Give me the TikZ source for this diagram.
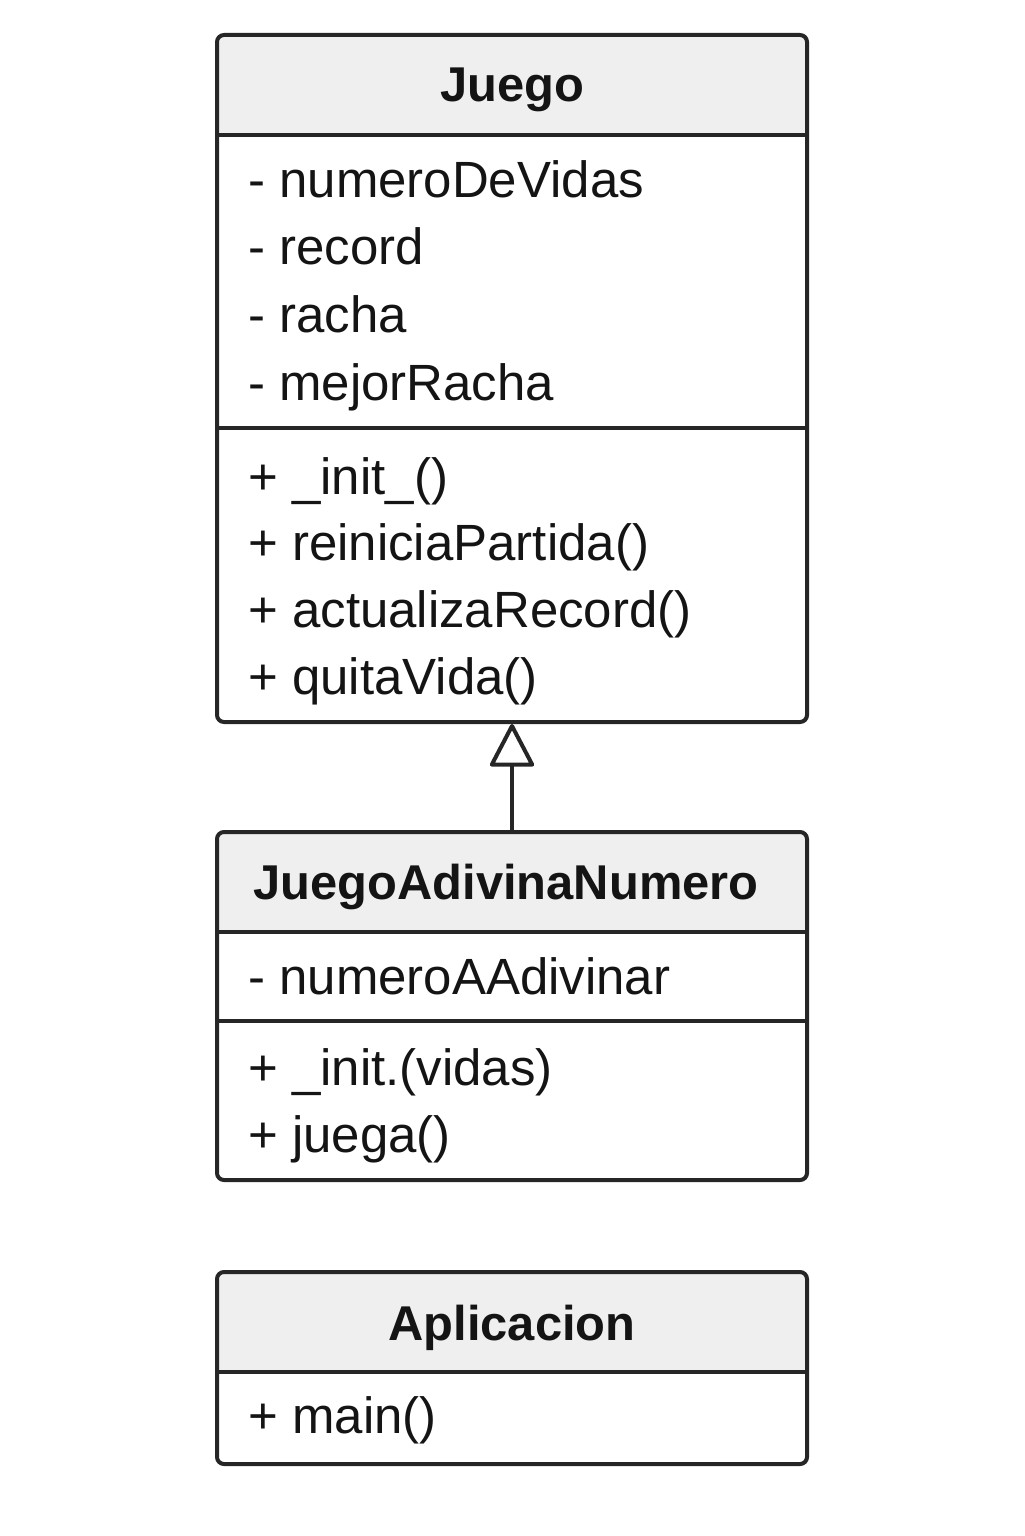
\documentclass[tikz,border=0pt]{standalone}
\usepackage{fontspec}
\setmainfont{Liberation Sans}
\usetikzlibrary{arrows.meta}
\definecolor{umlline}{HTML}{262626}
\definecolor{umlhead}{HTML}{EFEFEF}
\definecolor{umltext}{HTML}{141414}

\tikzset{
  classbox/.style={draw=umlline,line width=0.08cm,rounded corners=0.14cm,minimum width=11.8cm,inner sep=0pt},
  headbox/.style={fill=umlhead,rounded corners=0.14cm,minimum width=11.8cm,minimum height=2cm,inner sep=0pt},
  classname/.style={anchor=base,inner sep=0pt,text=umltext,font=\fontsize{27.8}{32}\selectfont\bfseries},
  member/.style={anchor=base west,inner sep=0pt,text=umltext,font=\fontsize{29}{34}\selectfont},
  divider/.style={draw=umlline,line width=0.08cm},
}

\begin{document}
\begin{tikzpicture}
\useasboundingbox (0,0) rectangle (20.48,-30.72);

% class Juego
\node[headbox] (juegoHead) at (10.24,-1.70) {};
\node[classname] (juegoName) at (10.24,-2.04) {Juego};
\node[classbox,minimum height=13.74cm] (juego) at (10.24,-7.57) {};
\draw[divider] (juegoHead.south west) -- (juegoHead.south east);
\coordinate (juegoOps) at (10.24,-8.56);
\draw[divider] (juego.west |- juegoOps) -- (juego.east |- juegoOps);
\node[member] (vidas) at (4.96,-3.96) {- numeroDeVidas};
\node[member] (record) at (4.96,-5.30) {- record};
\node[member] (racha) at (4.96,-6.65) {- racha};
\node[member] (mejor) at (4.96,-8.00) {- mejorRacha};
\node[member] (init) at (4.96,-9.88) {+ \_init\_()};
\node[member] (reinicia) at (4.96,-11.21) {+ reiniciaPartida()};
\node[member] (actualiza) at (4.96,-12.55) {+ actualizaRecord()};
\node[member] (quita) at (4.96,-13.89) {+ quitaVida()};

% class JuegoAdivinaNumero
\node[headbox] (janHead) at (10.24,-17.64) {};
\node[classname] (janName) at (10.12,-17.98) {JuegoAdivinaNumero};
\node[classbox,minimum height=6.96cm] (jan) at (10.24,-20.12) {};
\draw[divider] (janHead.south west) -- (janHead.south east);
\coordinate (janOps) at (10.24,-20.42);
\draw[divider] (jan.west |- janOps) -- (jan.east |- janOps);
\node[member] (adivinar) at (4.96,-19.88) {- numeroAAdivinar};
\node[member] (janInit) at (4.96,-21.70) {+ \_init.(vidas)};
\node[member] (juega) at (4.96,-23.04) {+ juega()};

% class Aplicacion
\node[headbox] (appHead) at (10.24,-26.44) {};
\node[classname] (appName) at (10.24,-26.80) {Aplicacion};
\node[classbox,minimum height=3.84cm] (app) at (10.24,-27.36) {};
\draw[divider] (appHead.south west) -- (appHead.south east);
\node[member] (main) at (4.96,-28.66) {+ main()};

% herencia
\draw[umlline,line width=0.08cm,-{Triangle[open,round,length=0.9cm,width=0.92cm]}] (jan.north) -- (juego.south);
\end{tikzpicture}
\end{document}
